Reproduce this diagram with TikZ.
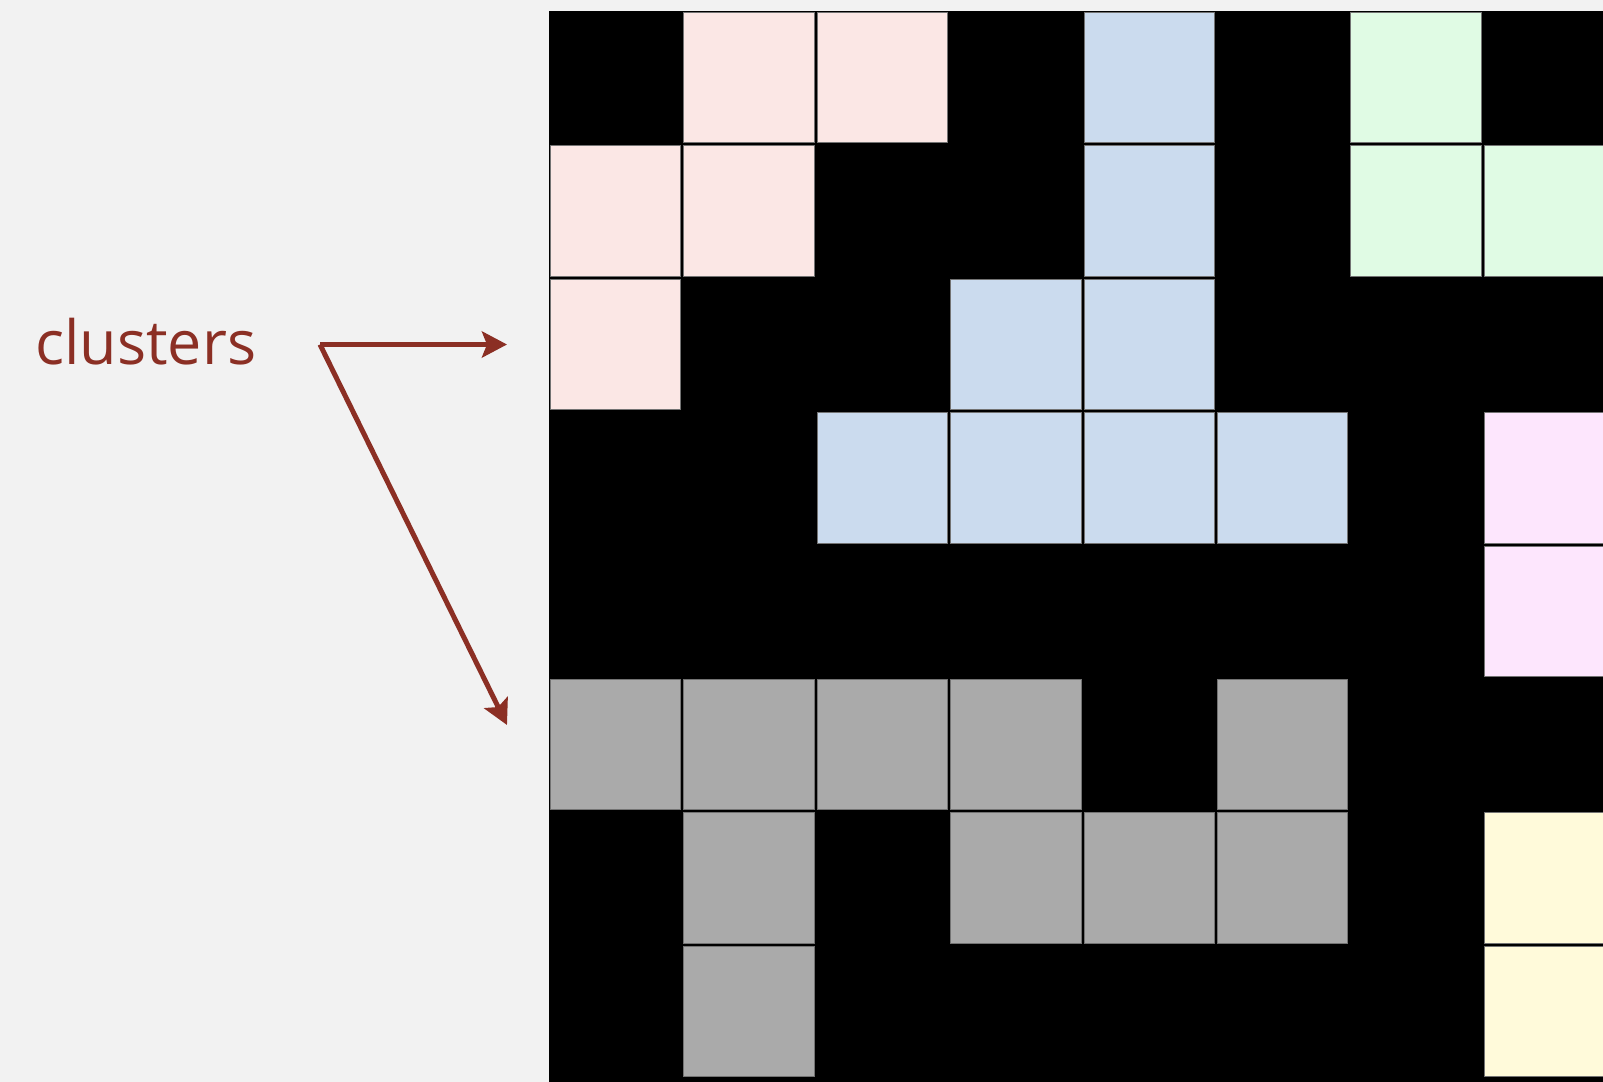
\documentclass[tikz,border=0pt]{standalone}
\usepackage{fontspec}
\setmainfont{Open Sans}
\usepackage{xcolor}
\usetikzlibrary{arrows.meta}
\definecolor{bgcol}{HTML}{F2F2F2}
\definecolor{rust}{HTML}{8B2F24}
\definecolor{pinkcell}{HTML}{FBE7E5}
\definecolor{bluecell}{HTML}{CBDBEE}
\definecolor{greencell}{HTML}{E0FBE4}
\definecolor{magcell}{HTML}{FDE6FD}
\definecolor{yelcell}{HTML}{FFFADA}
\definecolor{graycell}{HTML}{AAAAAA}
\tikzstyle{cell}  = [draw=black!55, line width=0.5pt]
\tikzstyle{label} = [inner sep=0pt, anchor=base west, text=rust, font=\fontsize{30.5}{30.5}\selectfont]
\tikzstyle{arrow} = [-{Stealth[length=12.5pt, width=13pt, inset=2.5pt]}, line width=2.5pt, draw=rust]

\begin{document}
\begin{tikzpicture}[x=0.5pt, y=-0.5pt]
    \fill[bgcol] (0,0) rectangle (1603,1082);
    \useasboundingbox (0,0) rectangle (1603,1082);

    % the grid: black sites, coloured clusters on top
    \fill[black] (549,11) rectangle (1603,1082);
    \foreach \r/\c/\shade in {0/1/pinkcell, 0/2/pinkcell, 1/0/pinkcell, 1/1/pinkcell, 2/0/pinkcell,
                              0/4/bluecell, 1/4/bluecell, 2/3/bluecell, 2/4/bluecell,
                              3/2/bluecell, 3/3/bluecell, 3/4/bluecell, 3/5/bluecell,
                              0/6/greencell, 1/6/greencell, 1/7/greencell,
                              3/7/magcell, 4/7/magcell,
                              5/0/graycell, 5/1/graycell, 5/2/graycell, 5/3/graycell, 5/5/graycell,
                              6/1/graycell, 6/3/graycell, 6/4/graycell, 6/5/graycell, 7/1/graycell,
                              6/7/yelcell, 7/7/yelcell}
        \draw[cell, fill=\shade] ({549+\c*133.4+1.5}, {11+\r*133.4+1.5}) rectangle ++(130.4,130.4);

    % label and arrows
    \node (lbl) [label] at (35,364) {clusters};
    \coordinate (fork) at (320,344.5);
    \coordinate (tipA) at (507,344.5);
    \coordinate (tipB) at (507,725);

    \draw[arrow] (fork) -- (tipA);
    \draw[arrow] (fork) -- (tipB);
\end{tikzpicture}
\end{document}
